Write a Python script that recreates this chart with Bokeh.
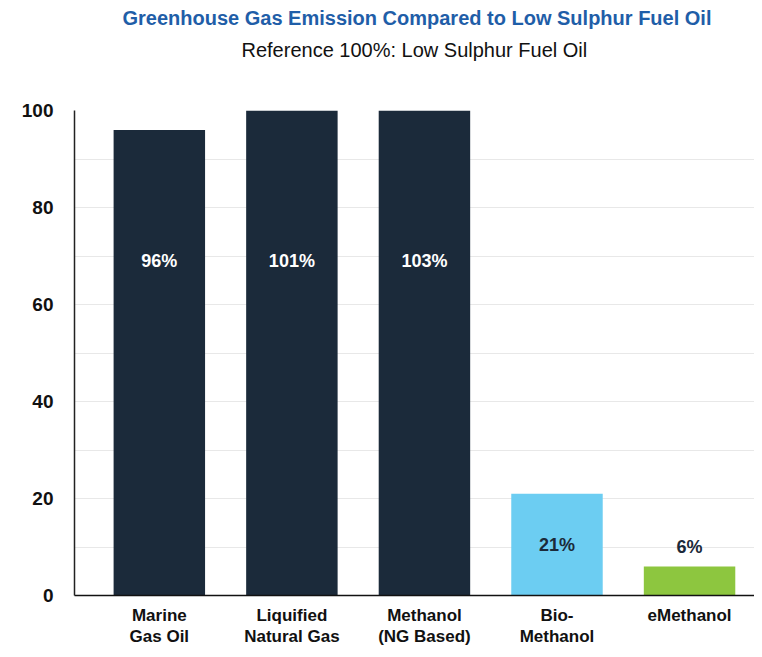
from bokeh.plotting import figure
from bokeh.models import Range1d, FixedTicker, Title, ColumnDataSource
from bokeh.core.properties import value
from bokeh.embed import file_html
from bokeh.resources import INLINE

# ---- data ----
categories = ["Marine\nGas Oil", "Liquified\nNatural Gas", "Methanol\n(NG Based)", "Bio-\nMethanol", "eMethanol"]
emissions = [96, 101, 103, 21, 6]
labels = ["96%", "101%", "103%", "21%", "6%"]
bar_colors = ["#1b2a3a", "#1b2a3a", "#1b2a3a", "#6ccdf2", "#8dc63f"]
label_colors = ["#ffffff", "#ffffff", "#ffffff", "#1b2a3a", "#1b2a3a"]
y_ticks = [0, 20, 40, 60, 80, 100]
grid_ticks = [0, 10, 20, 30, 40, 50, 60, 70, 80, 90, 100]

FONT = "Liberation Sans"

xs = [i + 0.5 for i in range(len(categories))]


def label_height(v):
    if v > 50:
        return 69
    if v >= 15:
        return v / 2
    return v + 4


src = ColumnDataSource(dict(
    x=xs, top=emissions, color=bar_colors, label=labels,
    label_y=[label_height(v) for v in emissions], label_color=label_colors,
))

p = figure(width=754, height=649, output_backend="svg", toolbar_location=None,
           x_range=Range1d(-0.14, 4.99), y_range=Range1d(0, 100),
           min_border_left=74, min_border_right=0, min_border_bottom=50,
           min_border_top=100)
p.outline_line_color = None
p.background_fill_color = "white"
p.border_fill_color = "white"

p.vbar(x="x", top="top", width=0.69, color="color", source=src, line_color=None)
p.text(x="x", y="label_y", text="label", text_color="label_color", source=src,
       text_align="center", text_baseline="middle", text_font=value(FONT),
       text_font_style="bold", text_font_size="18px")

# titles (spacer first = closest to the frame)
spacer = Title(text=" ", text_font=FONT, text_font_size="10px", standoff=33)
sub = Title(text="Reference 100%: Low Sulphur Fuel Oil", align="left",
            text_font=FONT, text_font_style="normal", text_font_size="20px",
            text_color="#111111", offset=167, standoff=8)
main = Title(text="Greenhouse Gas Emission Compared to Low Sulphur Fuel Oil", align="left",
             text_font=FONT, text_font_style="bold", text_font_size="20px",
             text_color="#1f5ea8", offset=48, standoff=8)
p.add_layout(spacer, "above")
p.add_layout(sub, "above")
p.add_layout(main, "above")

# axes
p.xaxis.ticker = FixedTicker(ticks=xs)
p.xaxis.major_label_overrides = {x: c for x, c in zip(xs, categories)}
p.xaxis.major_tick_line_color = None
p.xaxis.minor_tick_line_color = None
p.xaxis.axis_line_color = "#111111"
p.xaxis.axis_line_width = 1.5
p.xaxis.major_label_text_font = FONT
p.xaxis.major_label_text_font_style = "bold"
p.xaxis.major_label_text_font_size = "17px"
p.xaxis.major_label_text_color = "#111111"
p.xaxis.major_label_text_line_height = 1.15
p.xaxis.major_label_standoff = 4

p.yaxis.ticker = FixedTicker(ticks=y_ticks)
p.yaxis.major_tick_line_color = None
p.yaxis.minor_tick_line_color = None
p.yaxis.axis_line_color = "#222222"
p.yaxis.axis_line_width = 1.5
p.yaxis.major_label_text_font = FONT
p.yaxis.major_label_text_font_style = "bold"
p.yaxis.major_label_text_font_size = "19px"
p.yaxis.major_label_text_color = "#111111"
p.yaxis.major_label_standoff = 15

p.xgrid.grid_line_color = None
p.ygrid.ticker = FixedTicker(ticks=grid_ticks)
p.ygrid.grid_line_color = "#e8e8e8"
p.ygrid.grid_line_width = 1

open("out.html", "w").write(file_html(p, INLINE))
